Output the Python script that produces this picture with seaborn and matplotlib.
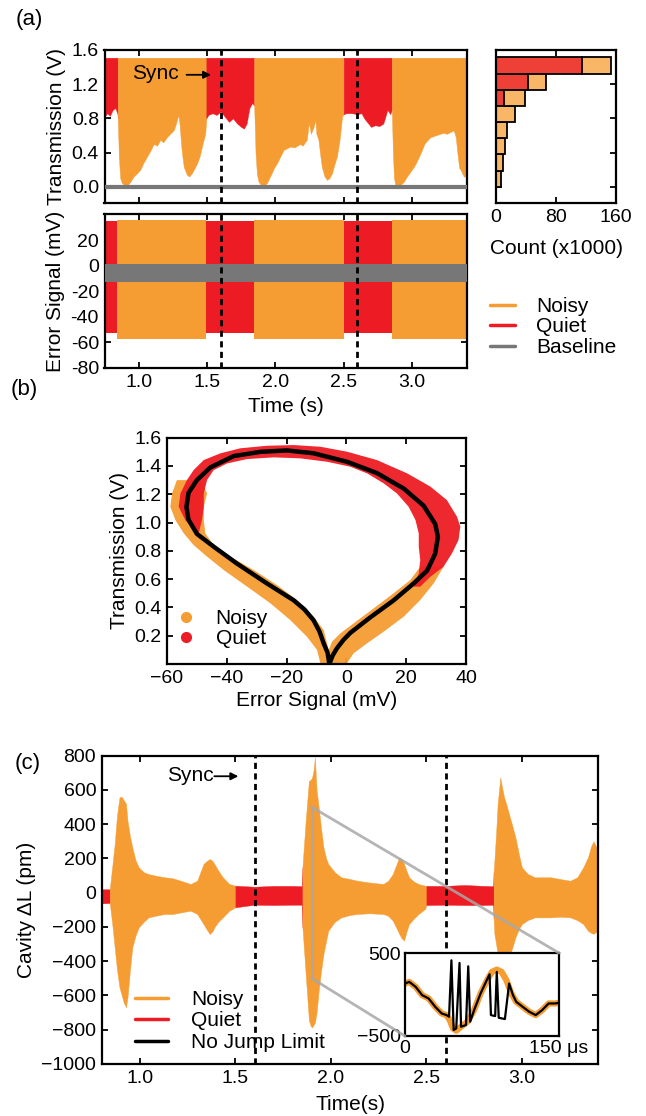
import numpy as np
import matplotlib
matplotlib.use("Agg")
import matplotlib.pyplot as plt
import seaborn as sns
from matplotlib.lines import Line2D
from matplotlib.patches import ConnectionPatch
from matplotlib.ticker import FormatStrFormatter

# ------------------------------------------------------------------ data
# (a) transmission: lower edge of the oscillation band; top is saturated
trans_t = [0.75, 0.77, 0.79, 0.81, 0.83, 0.845,
           0.847, 0.855, 0.865, 0.878, 0.90, 0.92, 0.94, 0.963, 0.99, 1.012, 1.035, 1.06, 1.085, 1.11,
           1.135, 1.158, 1.18, 1.207, 1.23, 1.256, 1.275, 1.29, 1.30, 1.31, 1.317, 1.33, 1.353, 1.37,
           1.39, 1.41, 1.426, 1.445, 1.463, 1.475, 1.487,
           1.495, 1.51, 1.54, 1.57, 1.60, 1.63, 1.66, 1.69, 1.72, 1.75, 1.77, 1.79, 1.81, 1.83, 1.84,
           1.845, 1.855, 1.865, 1.877, 1.90, 1.92, 1.938, 1.955, 1.974, 1.99, 2.01, 2.035, 2.06, 2.085,
           2.108, 2.14, 2.18, 2.20, 2.23, 2.245, 2.26, 2.28, 2.293, 2.30, 2.315, 2.33, 2.34, 2.36, 2.378,
           2.395, 2.415, 2.43, 2.45, 2.47, 2.488,
           2.50, 2.52, 2.56, 2.60, 2.63, 2.65, 2.68, 2.70, 2.73, 2.76, 2.79, 2.82, 2.84,
           2.852, 2.86, 2.868, 2.878, 2.90, 2.915, 2.94, 2.963, 2.99, 3.012, 3.03, 3.05, 3.07, 3.09,
           3.11, 3.134, 3.17, 3.207, 3.23, 3.256, 3.28, 3.305, 3.32, 3.33, 3.345, 3.354, 3.378, 3.40]
trans_lo = [0.82, 0.86, 0.83, 0.90, 0.92, 0.85,
            0.80, 0.35, 0.10, 0.04, 0.02, 0.02, 0.06, 0.12, 0.16, 0.20, 0.28, 0.35, 0.42, 0.50,
            0.48, 0.55, 0.52, 0.58, 0.62, 0.66, 0.75, 0.84, 0.72, 0.50, 0.39, 0.23, 0.14, 0.12,
            0.16, 0.22, 0.27, 0.35, 0.47, 0.55, 0.62,
            0.80, 0.84, 0.86, 0.84, 0.88, 0.82, 0.76, 0.80, 0.74, 0.70, 0.68, 0.74, 0.92, 0.98, 0.96,
            0.95, 0.40, 0.15, 0.06, 0.01, 0.02, 0.04, 0.10, 0.16, 0.22, 0.27, 0.35, 0.43, 0.45,
            0.47, 0.46, 0.50, 0.48, 0.55, 0.75, 0.62, 0.70, 0.78, 0.62, 0.55, 0.35, 0.23, 0.12, 0.08,
            0.10, 0.16, 0.25, 0.35, 0.55, 0.82,
            0.85, 0.86, 0.86, 0.85, 0.86, 0.80, 0.74, 0.70, 0.72, 0.71, 0.74, 0.90, 0.85,
            0.90, 0.40, 0.10, 0.02, 0.01, 0.02, 0.06, 0.12, 0.18, 0.23, 0.28, 0.35, 0.42, 0.50,
            0.54, 0.58, 0.60, 0.62, 0.63, 0.62, 0.64, 0.66, 0.58, 0.42, 0.22, 0.20, 0.12, 0.12]
trans_state = (['Q'] * 6 + ['N'] * 35 + ['Q'] * 15 + ['N'] * 35 + ['Q'] * 13 + ['N'] * 28)
trans_top = 1.51

# (a) error signal: state switch times and band limits
err_t = [0.75, 0.845, 1.495, 1.845, 2.50, 2.852, 3.40]
err_state = ['Q', 'N', 'Q', 'N', 'Q', 'N']
err_noisy = (-57.5, 35.5)
err_quiet = (-53.0, 35.0)
err_base = (-13.0, 1.0)

# (a) histogram (x1000 counts), bins from 0 to 1.51 V, bottom to top
hist_centers = [0.095, 0.284, 0.473, 0.662, 0.851, 1.040, 1.230, 1.419]
hist_quiet = [0, 0, 0, 0, 0, 11, 42.6, 114]
hist_noisy = [7, 9.8, 11.6, 15, 25.7, 27, 24.1, 39]
hist_height = 0.189

# (b) regions of the scatter clouds (outline) and the model curve
b_or_x = [-56.7, -58.3, -58.9, -57.2, -54.4, -51.1, -46.6, -41.0, -33.2, -25.4, -18.8, -13.2, -9.8, -8.7,
          0.2, 2.4, 6.9, 12.5, 19.2, 24.7, 29.2, 32.5,
          24.7, 21.4, 15.8, 9.1, 2.4, -2.0, -4.8, -5.9, -7.6, -11.0, -16.5, -23.2, -31.0, -38.8,
          -44.4, -47.2, -47.7, -47.7, -46.6, -48.8]
b_or_y = [1.30, 1.206, 1.112, 1.018, 0.924, 0.841, 0.759, 0.664, 0.547, 0.429, 0.311, 0.193, 0.099, 0.005,
          0.005, 0.075, 0.146, 0.229, 0.335, 0.452, 0.570, 0.688,
          0.688, 0.594, 0.500, 0.393, 0.287, 0.217, 0.158, 0.099, 0.240, 0.335, 0.452, 0.558, 0.664, 0.759,
          0.841, 0.924, 1.018, 1.112, 1.206, 1.30]
b_rd_x = [-50.0, -53.9, -56.1, -55.5, -53.3, -51.1, -47.7, -42.2, -35.5, -26.6, -17.6, -8.7, 0.2, 10.2,
          20.3, 28.1, 33.6, 37.0, 38.1, 37.5, 35.3, 32.5, 28.1, 24.7,
          22.5, 24.2, 24.7, 24.2, 24.2, 23.1, 20.8, 16.9, 12.5, 6.9, 1.3, -6.5, -15.4, -24.3, -33.2,
          -39.9, -44.4, -46.6, -47.7, -47.7, -48.3, -49.4]
b_rd_y = [0.924, 1.018, 1.112, 1.206, 1.301, 1.371, 1.442, 1.489, 1.525, 1.543, 1.548, 1.536, 1.501, 1.442,
          1.348, 1.254, 1.159, 1.041, 0.971, 0.877, 0.782, 0.688, 0.617, 0.547,
          0.547, 0.641, 0.735, 0.829, 0.924, 1.018, 1.112, 1.206, 1.277, 1.348, 1.395, 1.430, 1.454, 1.461,
          1.449, 1.418, 1.371, 1.301, 1.206, 1.112, 1.018, 0.924]
b_bk_x = [-5.7, -6.3, -7.6, -9.0, -11.0, -14.0, -17.6, -26.6, -36.6, -44.4, -50.0, -52.8, -53.5, -52.8,
          -50.0, -45.5, -37.7, -28.8, -19.9, -11.0, 0.2, 10.2, 19.2, 25.8, 29.7, 30.6, 29.7, 27.0, 22.5,
          15.8, 8.0, 1.3, -1.0, -3.2, -4.6, -5.7]
b_bk_y = [0.0, 0.08, 0.146, 0.23, 0.31, 0.385, 0.45, 0.57, 0.71, 0.83, 0.92, 1.02, 1.11, 1.21,
          1.30, 1.39, 1.47, 1.50, 1.51, 1.49, 1.43, 1.35, 1.24, 1.12, 0.99, 0.90, 0.78, 0.66, 0.57,
          0.45, 0.33, 0.22, 0.17, 0.11, 0.06, 0.0]

# (c) cavity length excursion envelope
c_t = [0.80, 0.842, 0.855, 0.868, 0.880, 0.893, 0.905, 0.915, 0.927, 0.935, 0.948, 0.960, 0.977, 0.994,
       1.02, 1.045, 1.08, 1.13, 1.17, 1.214, 1.265, 1.30, 1.333, 1.35, 1.366, 1.38, 1.39, 1.41, 1.434,
       1.468, 1.50, 1.60, 1.70, 1.80, 1.848,
       1.851, 1.868, 1.885, 1.895, 1.902, 1.910, 1.916, 1.925, 1.936, 1.948, 1.961, 1.975, 1.986, 2.02,
       2.054, 2.10, 2.139, 2.20, 2.274, 2.30, 2.324, 2.345, 2.358, 2.370, 2.383, 2.395, 2.409, 2.435,
       2.459, 2.493,
       2.50, 2.60, 2.70, 2.80, 2.85,
       2.852, 2.856, 2.865, 2.873, 2.887, 2.895, 2.907, 2.920, 2.932, 2.950, 2.966, 2.985, 3.0, 3.03,
       3.068, 3.152, 3.20, 3.253, 3.29, 3.321, 3.346, 3.363, 3.375, 3.388, 3.40]
c_hi = [20, 20, 150, 284, 450, 557, 560, 540, 520, 420, 330, 265, 190, 148,
        120, 109, 100, 90, 85, 70, 51, 70, 168, 185, 197, 185, 168, 130, 90,
        51, 41, 35, 40, 40, 38,
        148, 420, 654, 660, 674, 720, 790, 600, 498, 380, 265, 200, 168, 120,
        90, 80, 70, 60, 51, 70, 109, 170, 207, 195, 168, 130, 90, 65,
        51, 41,
        40, 40, 45, 40, 38,
        120, 187, 350, 518, 674, 620, 557, 510, 460, 390, 323, 220, 148, 110,
        90, 90, 80, 70, 90, 148, 207, 274, 300, 270, 260]
c_lo = [-62, -60, -180, -319, -450, -552, -600, -640, -669, -611, -450, -320, -250, -202,
        -170, -144, -135, -124, -125, -115, -105, -124, -183, -215, -241, -225, -202, -170, -144,
        -105, -85, -70, -72, -70, -70,
        -202, -475, -747, -780, -786, -770, -760, -700, -572, -460, -358, -280, -222, -170,
        -144, -130, -124, -120, -124, -135, -163, -210, -241, -265, -280, -230, -183, -150,
        -124, -95,
        -72, -70, -72, -72, -70,
        -150, -241, -300, -358, -420, -450, -460, -420, -380, -320, -261, -210, -183, -160,
        -144, -144, -140, -144, -160, -183, -222, -235, -240, -230, -225]
c_state = ['Q'] + ['N'] * 29 + ['Q'] * 5 + ['N'] * 30 + ['Q'] * 5 + ['N'] * 25

# (c) inset: 150 us window
in_t_or = [0, 4.1, 10.4, 16.7, 23, 29.4, 35.7, 40.4, 43.6, 46.7, 49.9, 54.6, 60.9, 67.3, 73.6, 79.9,
           84.6, 89.4, 94.1, 98.8, 103.6, 108.3, 114.6, 121, 127.3, 133.6, 139.9, 146.2, 150]
in_or = [132, 152, 92, -8, -48, -148, -228, -248, -308, -408, -436, -388, -328, -188, 12, 172,
         272, 300, 272, 172, 12, -88, -148, -208, -248, -188, -108, -108, -100]
in_t_bk = [0, 4.1, 10.4, 16.7, 23, 29.4, 35.7, 40.4, 42.9, 45.2, 47.4, 49.9, 53.1, 54.6, 59.4, 61.6,
           63.5, 67.3, 73.6, 79.9, 82.4, 83.7, 87.8, 89.4, 91.3, 97.3, 101.4, 105.2, 108.3, 114.6,
           121, 127.3, 133.6, 139.9, 146.2, 150]
in_bk = [132, 152, 92, -8, -48, -148, -228, -248, -268, 412, -428, -408, 380, -388, -368, 340,
         -328, -188, 12, 180, 244, -248, -260, 272, -280, -296, 132, -8, -88, -148,
         -208, -248, -188, -108, -108, -100]

sync_times = [1.6, 2.6]
zoom_t = 1.9

# ------------------------------------------------------------------ style
OR = '#F59C33'
RD = '#ED1C24'
GR = '#777777'
H_RD = '#EE4036'
H_OR = '#F9B667'

sns.set_style("ticks")
plt.rcParams['font.family'] = ['Liberation Sans', 'DejaVu Sans']
plt.rcParams.update({
    'font.size': 15, 'axes.labelsize': 15, 'xtick.labelsize': 14, 'ytick.labelsize': 14,
    'legend.fontsize': 15, 'axes.linewidth': 1.6, 'axes.edgecolor': 'black',
    'xtick.direction': 'in', 'ytick.direction': 'in', 'xtick.top': True, 'ytick.right': True,
    'xtick.major.size': 4, 'ytick.major.size': 4, 'xtick.major.width': 1.3, 'ytick.major.width': 1.3,
    'xtick.color': 'black', 'ytick.color': 'black', 'text.color': 'black', 'axes.labelcolor': 'black',
    'xtick.major.pad': 4, 'ytick.major.pad': 4,
})

W, H = 646, 1116
fig = plt.figure(figsize=(W / 100, H / 100), dpi=100)


def add_ax(l, t, r, b):
    return fig.add_axes([l / W, 1 - b / H, (r - l) / W, (b - t) / H])


def draw_runs(ax, t, lo, hi, state, colors):
    n = min(len(t), len(state))
    i = 0
    while i < n - 1:
        j = i
        while j + 1 < n - 1 and state[j + 1] == state[i]:
            j += 1
        sl = slice(i, j + 2)
        ax.fill_between(t[sl], lo[sl], hi[sl], color=colors[state[i]], lw=0.3,
                        edgecolor=colors[state[i]], zorder=2)
        i = j + 1


cols = {'N': OR, 'Q': RD}
dash = (0, (2.2, 1.6))

# ------------------------------------------------------------------ (a) transmission
ax_tr = add_ax(104.5, 50, 466.7, 203)
tt = np.array(trans_t)
draw_runs(ax_tr, tt, np.array(trans_lo), np.full(len(tt), trans_top), trans_state, cols)
sns.lineplot(x=[trans_t[0], trans_t[-1]], y=[0, 0], color=GR, lw=3, ax=ax_tr, zorder=3)
for s in sync_times:
    ax_tr.axvline(s, color='black', ls=dash, lw=2, zorder=5)
ax_tr.set_xlim(0.75, 3.4)
ax_tr.set_ylim(-0.19, 1.6)
ax_tr.set_xticks([1.0, 1.5, 2.0, 2.5, 3.0])
ax_tr.set_yticks([0, 0.4, 0.8, 1.2, 1.6])
ax_tr.yaxis.set_major_formatter(FormatStrFormatter('%.1f'))
ax_tr.tick_params(labelbottom=False)
ax_tr.set_ylabel('Transmission (V)')
ax_tr.text(1.12, 1.32, 'Sync', ha='center', va='center', fontsize=15, zorder=6)
ax_tr.annotate('', xy=(1.55, 1.31), xytext=(1.33, 1.31),
               arrowprops=dict(arrowstyle='-|>', color='black', lw=1.3, mutation_scale=11), zorder=6)

# ------------------------------------------------------------------ (a) histogram
ax_hi = add_ax(496, 50, 616, 203)
ax_hi.barh(hist_centers, hist_quiet, height=hist_height, color=H_RD, edgecolor='black', lw=1.3, zorder=2)
ax_hi.barh(hist_centers, hist_noisy, left=hist_quiet, height=hist_height, color=H_OR,
           edgecolor='black', lw=1.3, zorder=2)
ax_hi.set_xlim(0, 160)
ax_hi.set_ylim(-0.19, 1.6)
ax_hi.set_xticks([0, 80, 160])
ax_hi.set_yticks([0, 0.4, 0.8, 1.2, 1.6])
ax_hi.tick_params(labelleft=False)
ax_hi.set_xlabel('Count (x1000)', labelpad=10)

# ------------------------------------------------------------------ (a) error signal
ax_er = add_ax(104.5, 214, 466.7, 368)
for k, st in enumerate(err_state):
    lo, hi = err_noisy if st == 'N' else err_quiet
    ax_er.fill_between([err_t[k], err_t[k + 1]], [lo, lo], [hi, hi], color=cols[st], lw=0, zorder=2)
ax_er.fill_between([err_t[0], err_t[-1]], [err_base[0]] * 2, [err_base[1]] * 2, color=GR, lw=0, zorder=3)
for s in sync_times:
    ax_er.axvline(s, color='black', ls=dash, lw=2, zorder=5)
ax_er.set_xlim(0.75, 3.4)
ax_er.set_ylim(-80, 40.5)
ax_er.set_xticks([1.0, 1.5, 2.0, 2.5, 3.0])
ax_er.set_xticklabels(['1.0', '1.5', '2.0', '2.5', '3.0'])
ax_er.set_yticks([-80, -60, -40, -20, 0, 20])
ax_er.set_yticklabels(['-80', '-60', '-40', '-20', '0', '20'])
ax_er.set_ylabel('Error Signal (mV)')
ax_er.set_xlabel('Time (s)', labelpad=5)

fig.legend([Line2D([], [], color=OR, lw=2.5), Line2D([], [], color=RD, lw=2.5),
            Line2D([], [], color=GR, lw=2.5)], ['Noisy', 'Quiet', 'Baseline'],
           loc='upper left', bbox_to_anchor=(490 / W, 1 - 297 / H), frameon=False,
           handlelength=1.2, handletextpad=1.0, labelspacing=0.07, borderpad=0, borderaxespad=0)

# ------------------------------------------------------------------ (b)
ax_b = add_ax(167, 437.7, 466, 664)
ax_b.fill(b_or_x, b_or_y, color=OR, lw=0, alpha=0.95, zorder=2)
ax_b.fill(b_rd_x, b_rd_y, color=RD, lw=0, alpha=0.95, zorder=3)
sns.lineplot(x=b_bk_x, y=b_bk_y, sort=False, estimator=None, color='black', lw=3.2, ax=ax_b,
             zorder=4, legend=False)
ax_b.lines[-1].set_solid_joinstyle('round')
ax_b.set_xlim(-60, 40)
ax_b.set_ylim(0, 1.6)
ax_b.set_xticks([-60, -40, -20, 0, 20, 40])
ax_b.set_yticks([0.2, 0.4, 0.6, 0.8, 1.0, 1.2, 1.4, 1.6])
ax_b.yaxis.set_major_formatter(FormatStrFormatter('%.1f'))
ax_b.set_xlabel('Error Signal (mV)', labelpad=3)
ax_b.set_ylabel('Transmission (V)')
ax_b.legend([Line2D([], [], ls='none', marker='o', ms=7, color=OR),
             Line2D([], [], ls='none', marker='o', ms=7, color=RD)], ['Noisy', 'Quiet'],
            loc='upper left', bbox_to_anchor=(176 / W, 1 - 609 / H), bbox_transform=fig.transFigure,
            frameon=False, handlelength=1.0, handletextpad=0.9, labelspacing=0.05,
            borderpad=0, borderaxespad=0)

# ------------------------------------------------------------------ (c)
ax_c = add_ax(101.7, 755.7, 598.3, 1064)
draw_runs(ax_c, np.array(c_t), np.array(c_lo), np.array(c_hi), c_state, cols)
for s in sync_times:
    ax_c.axvline(s, color='black', ls=dash, lw=2, zorder=5)
ax_c.set_xlim(0.8, 3.4)
ax_c.set_ylim(-1000, 800)
ax_c.set_xticks([1.0, 1.5, 2.0, 2.5, 3.0])
ax_c.set_xticklabels(['1.0', '1.5', '2.0', '2.5', '3.0'])
ax_c.set_yticks(list(range(-1000, 801, 200)))
ax_c.set_ylabel('Cavity ΔL (pm)')
ax_c.set_xlabel('Time(s)', labelpad=6)
ax_c.text(1.263, 682, 'Sync', ha='center', va='center', fontsize=15, zorder=6)
ax_c.annotate('', xy=(1.53, 680), xytext=(1.375, 680),
              arrowprops=dict(arrowstyle='-|>', color='black', lw=1.3, mutation_scale=11), zorder=6)
ax_c.plot([zoom_t, zoom_t], [-500, 500], color='#a8a8a8', lw=2, alpha=0.85, zorder=6)
ax_c.legend([Line2D([], [], color=OR, lw=2.5), Line2D([], [], color=RD, lw=2.5),
             Line2D([], [], color='black', lw=2.5)], ['Noisy', 'Quiet', 'No Jump Limit'],
            loc='upper left', bbox_to_anchor=(135 / W, 1 - 990 / H), bbox_transform=fig.transFigure,
            frameon=False, handlelength=1.6, handletextpad=1.1, labelspacing=0.12,
            borderpad=0, borderaxespad=0)

# inset
ax_in = add_ax(405, 953, 559, 1036)
sns.lineplot(x=in_t_or, y=in_or, sort=False, estimator=None, color=OR, lw=4.5, ax=ax_in, legend=False)
sns.lineplot(x=in_t_bk, y=in_bk, sort=False, estimator=None, color='black', lw=1.6, ax=ax_in, legend=False)
ax_in.set_xlim(0, 150)
ax_in.set_ylim(-500, 500)
ax_in.set_xticks([0, 150])
ax_in.set_xticklabels(['0', '150 μs'])
ax_in.set_yticks([-500, 500])
ax_in.set_yticklabels(['−500', '500'])
ax_in.tick_params(length=0, pad=3, top=False, right=False)
for sp in ax_in.spines.values():
    sp.set_linewidth(1.6)

for xyA, xyB in [((zoom_t, 500), (1, 1)), ((zoom_t, -500), (0, 0))]:
    con = ConnectionPatch(xyA=xyA, coordsA=ax_c.transData, xyB=xyB, coordsB=ax_in.transAxes,
                          color='#a8a8a8', lw=2, alpha=0.85)
    fig.add_artist(con)

# panel letters
fig.text(29 / W, 1 - 20 / H, '(a)', ha='center', va='center', fontsize=16)
fig.text(24 / W, 1 - 389 / H, '(b)', ha='center', va='center', fontsize=16)
fig.text(28 / W, 1 - 763 / H, '(c)', ha='center', va='center', fontsize=16)

fig.savefig('out.png', dpi=100)
